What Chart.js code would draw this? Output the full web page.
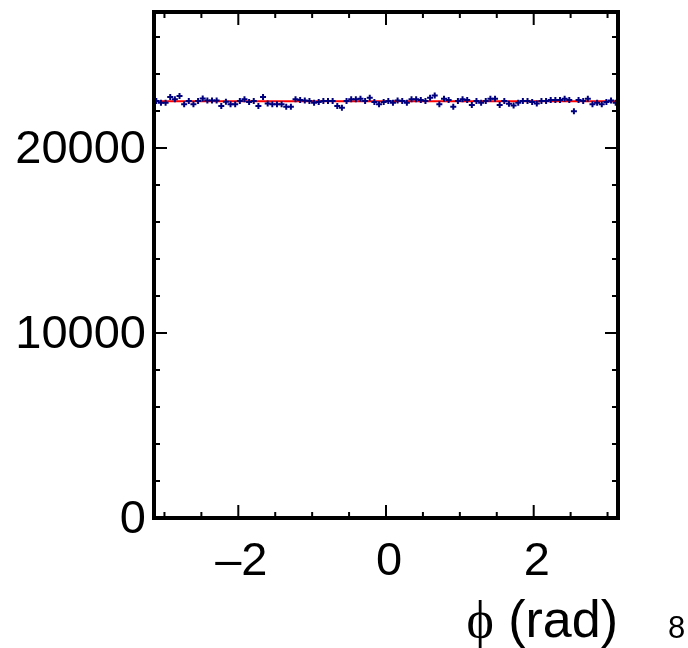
<!DOCTYPE html>
<html>
<head>
<meta charset="utf-8">
<script src="https://cdn.jsdelivr.net/npm/chart.js@4/dist/chart.umd.min.js"></script>
<style>
  html, body { margin:0; padding:0; background:#fff; }
  canvas { display:block; }
</style>
</head>
<body>
<canvas id="c" width="688" height="648"></canvas>
<script>
/* ---------- data ---------- */
const counts = [
  22540, 22450, 22450, 22750, 22630, 22810, 22360, 22540, 22360, 22540,
  22680, 22570, 22570, 22570, 22270, 22500, 22360, 22360, 22540, 22630,
  22480, 22540, 22270, 22750, 22410, 22360, 22360, 22360, 22230, 22230,
  22630, 22590, 22570, 22540, 22450, 22480, 22540, 22540, 22540, 22270,
  22180, 22540, 22630, 22630, 22660, 22540, 22720, 22480, 22360, 22480,
  22540, 22450, 22570, 22540, 22450, 22630, 22630, 22590, 22540, 22720,
  22840, 22360, 22660, 22590, 22230, 22540, 22630, 22590, 22320, 22540,
  22450, 22540, 22660, 22660, 22320, 22540, 22390, 22300, 22450, 22540,
  22540, 22480, 22410, 22540, 22540, 22590, 22590, 22590, 22660, 22590,
  21990, 22590, 22540, 22660, 22360, 22450, 22360, 22480, 22570, 22450
];
const fitLevel = 22520;
const xMajorTicks = [-2, 0, 2];
const xTickLabels = ['\u20132', '0', '2'];
const yMajorTicks = [0, 10000, 20000];
const yTickLabels = ['0', '10000', '20000'];
const xRange = [-Math.PI, Math.PI];
const yRange = [0, 27350];

/* ---------- build points ---------- */
const nBins = counts.length;
const binW = (xRange[1] - xRange[0]) / nBins;
const points = counts.map((v, i) => ({ x: xRange[0] + (i + 0.5) * binW, y: v }));

const SANS = '"Liberation Sans", Arial, sans-serif';

/* ---------- ROOT-like frame, inward ticks, labels ---------- */
const rootFrame = {
  id: 'rootFrame',
  afterDraw(chart) {
    const { ctx, chartArea: a, scales: { x, y } } = chart;
    ctx.save();
    ctx.strokeStyle = '#000';
    ctx.lineWidth = 4;
    ctx.strokeRect(a.left, a.top, a.right - a.left, a.bottom - a.top);

    ctx.lineWidth = 2;
    ctx.beginPath();
    // x ticks: minor every 0.5, major every 2 (bottom + top)
    for (let v = -3; v <= 3.001; v += 0.5) {
      const px = x.getPixelForValue(v);
      const len = xMajorTicks.includes(v) ? 13 : 6;
      ctx.moveTo(px, a.bottom); ctx.lineTo(px, a.bottom - len);
      ctx.moveTo(px, a.top);    ctx.lineTo(px, a.top + len);
    }
    // y ticks: minor every 2000, major every 10000 (left + right)
    for (let v = 0; v <= yRange[1]; v += 2000) {
      const py = y.getPixelForValue(v);
      const len = yMajorTicks.includes(v) ? 13 : 6;
      ctx.moveTo(a.left, py);  ctx.lineTo(a.left + len, py);
      ctx.moveTo(a.right, py); ctx.lineTo(a.right - len, py);
    }
    ctx.stroke();

    ctx.fillStyle = '#000';
    ctx.font = '47px ' + SANS;
    ctx.textAlign = 'center';
    ctx.textBaseline = 'middle';
    xMajorTicks.forEach((v, i) => ctx.fillText(xTickLabels[i], x.getPixelForValue(v) + 3, 562));
    ctx.textAlign = 'right';
    yMajorTicks.forEach((v, i) => ctx.fillText(yTickLabels[i], a.left - 8, y.getPixelForValue(v) + 2));

    // axis title: phi (rad)
    ctx.textBaseline = 'alphabetic';
    ctx.textAlign = 'left';
    ctx.font = '52px ' + SANS;
    const rest = ' (rad)';
    const restW = ctx.measureText(rest).width;
    ctx.font = '52px "Liberation Serif", "DejaVu Serif", serif';
    const phi = '\u03d5';
    const phiW = ctx.measureText(phi).width;
    const x0 = a.right - restW - phiW;
    ctx.fillText(phi, x0, 637);
    ctx.font = '52px ' + SANS;
    ctx.fillText(rest, x0 + phiW, 637);

    ctx.font = '31px ' + SANS;
    ctx.fillText('8', 668, 638);
    ctx.restore();
  }
};

new Chart(document.getElementById('c'), {
  type: 'scatter',
  data: {
    datasets: [
      { data: points, pointStyle: 'cross', pointRadius: 3, pointHoverRadius: 3,
        borderColor: '#00007f', backgroundColor: '#00007f', borderWidth: 2, order: 1 },
      { type: 'line', data: [{ x: xRange[0], y: fitLevel }, { x: xRange[1], y: fitLevel }],
        borderColor: '#ff0000', borderWidth: 2, pointRadius: 0, order: 2 }
    ]
  },
  options: {
    responsive: false,
    animation: false,
    layout: { padding: { left: 154, right: 70, top: 12, bottom: 130 } },
    plugins: { legend: { display: false }, tooltip: { enabled: false } },
    scales: {
      x: { type: 'linear', min: xRange[0], max: xRange[1], display: false },
      y: { type: 'linear', min: yRange[0], max: yRange[1], display: false }
    }
  },
  plugins: [rootFrame]
});
</script>
</body>
</html>
